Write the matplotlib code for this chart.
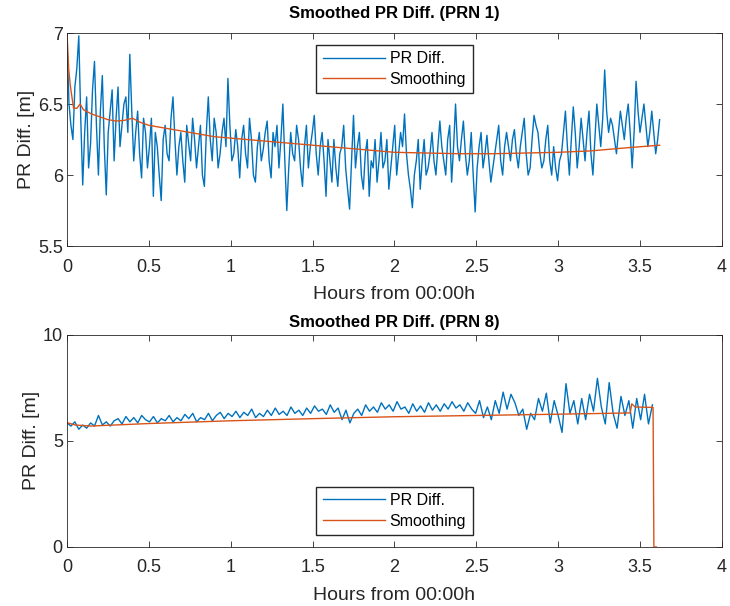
import numpy as np
import matplotlib
matplotlib.use('Agg')
import matplotlib.pyplot as plt
from matplotlib.ticker import MultipleLocator, FormatStrFormatter

plt.rcParams['font.family'] = ['Liberation Sans', 'DejaVu Sans']

# ---- PRN 1 data (hours, metres) ----
prn1_diff = [6.95, 6.50, 6.35, 6.25, 6.62, 6.75, 6.98, 6.40, 5.93, 6.30, 6.55, 6.05, 6.22, 6.60, 6.80, 6.35, 6.00, 6.45, 6.70, 6.20,
             5.86, 6.30, 6.45, 6.60, 6.10, 6.40, 6.62, 6.20, 6.35, 6.50, 6.55, 6.30, 6.85, 6.45, 6.10, 6.30, 6.45, 6.15, 5.98, 6.40,
             6.30, 6.05, 6.20, 6.40, 5.85, 6.30, 6.20, 6.00, 5.82, 6.25, 6.35, 6.15, 6.10, 6.40, 6.55, 6.25, 6.00, 6.20, 6.30, 6.10,
             5.95, 6.35, 6.22, 6.10, 6.40, 6.25, 6.05, 6.20, 6.35, 6.00, 5.92, 6.30, 6.55, 6.25, 6.10, 6.40, 6.30, 6.05, 6.15, 6.30,
             6.40, 6.20, 6.68, 6.35, 6.10, 6.15, 6.32, 6.20, 5.98, 6.25, 6.35, 6.15, 6.05, 6.40, 6.25, 6.00, 5.95, 6.20, 6.30, 6.10,
             6.18, 6.30, 6.38, 6.10, 5.98, 6.30, 6.20, 6.35, 6.05, 6.25, 6.50, 6.10, 5.75, 6.05, 6.30, 6.15, 6.10, 6.35, 6.25, 6.05,
             5.92, 6.20, 6.35, 6.05, 6.20, 6.30, 6.42, 6.15, 6.00, 6.20, 6.30, 6.10, 5.85, 6.25, 6.10, 5.95, 6.25, 6.05, 5.92, 6.15,
             6.20, 6.35, 6.05, 5.90, 5.76, 6.10, 6.42, 6.05, 6.20, 6.30, 6.00, 5.90, 6.15, 6.25, 5.85, 6.10, 6.05, 6.25, 5.95, 6.10,
             6.30, 6.05, 6.10, 6.25, 5.90, 6.05, 6.20, 6.35, 6.00, 6.15, 6.30, 6.20, 6.43, 6.15, 6.00, 5.90, 5.77, 6.00, 6.10, 6.25,
             5.90, 6.10, 6.25, 6.00, 6.05, 6.15, 6.30, 6.10, 6.00, 6.20, 6.38, 6.20, 6.10, 6.00, 6.25, 6.35, 5.95, 6.20, 6.50, 6.20,
             6.10, 6.25, 6.38, 6.15, 6.00, 6.10, 6.30, 6.00, 5.74, 6.05, 6.20, 6.30, 6.05, 6.15, 6.28, 6.10, 5.95, 6.05, 6.15, 6.25,
             6.35, 6.10, 6.00, 6.20, 6.30, 6.20, 6.10, 6.25, 6.32, 6.15, 6.05, 6.20, 6.30, 6.40, 6.15, 6.00, 6.05, 6.25, 6.42, 6.35,
             6.30, 6.15, 6.05, 6.10, 6.25, 6.35, 6.10, 6.00, 6.20, 6.05, 5.96, 6.10, 6.15, 6.30, 6.45, 6.20, 6.00, 6.25, 6.48, 6.30,
             6.05, 6.20, 6.40, 6.25, 6.10, 6.30, 6.45, 6.15, 6.00, 6.25, 6.50, 6.35, 6.20, 6.40, 6.74, 6.45, 6.30, 6.40, 6.35, 6.25,
             6.15, 6.30, 6.45, 6.35, 6.25, 6.40, 6.50, 6.30, 6.05, 6.30, 6.66, 6.45, 6.30, 6.40, 6.50, 6.35, 6.20, 6.30, 6.45, 6.30,
             6.15, 6.25, 6.39]
prn1_t = np.linspace(0, 3.62, len(prn1_diff))

prn1_smooth_t = [0, 0.01, 0.02, 0.04, 0.06, 0.08, 0.10, 0.15, 0.20, 0.25,
                 0.30, 0.35, 0.40, 0.45, 0.50, 0.60, 0.70, 0.80, 0.90, 1.00,
                 1.20, 1.40, 1.60, 1.80, 2.00, 2.20, 2.40, 2.60, 2.80, 3.00,
                 3.20, 3.40, 3.62]
prn1_smooth = [7.00, 6.75, 6.63, 6.47, 6.47, 6.50, 6.46, 6.43, 6.41, 6.39,
               6.38, 6.385, 6.40, 6.37, 6.35, 6.33, 6.31, 6.29, 6.27, 6.26,
               6.24, 6.22, 6.20, 6.18, 6.16, 6.155, 6.15, 6.15, 6.155, 6.16,
               6.17, 6.19, 6.21]

# ---- PRN 8 data ----
prn8_diff = [5.85, 5.70, 5.90, 5.55, 5.75, 5.60, 5.85, 5.70, 6.20, 5.75,
             5.90, 5.70, 5.95, 6.05, 5.80, 6.15, 5.90, 6.10, 5.85, 6.20,
             6.00, 5.90, 6.15, 5.85, 6.05, 5.95, 6.20, 5.90, 6.10, 5.95,
             6.25, 6.05, 6.30, 5.90, 6.10, 6.00, 6.30, 5.95, 6.20, 6.35,
             6.05, 6.30, 6.15, 6.40, 6.10, 6.35, 6.20, 6.50, 6.10, 6.30,
             6.15, 6.45, 6.20, 6.55, 6.25, 6.40, 6.20, 6.60, 6.30, 6.45,
             6.20, 6.55, 6.30, 6.65, 6.40, 6.50, 6.25, 6.70, 6.35, 6.55,
             6.00, 6.45, 5.85, 6.30, 6.50, 6.20, 6.70, 6.40, 6.60, 6.35,
             6.80, 6.50, 6.70, 6.40, 6.85, 6.50, 6.60, 6.30, 6.75, 6.40,
             6.65, 6.35, 6.80, 6.45, 6.70, 6.40, 6.75, 6.50, 6.85, 6.55,
             6.70, 6.40, 6.80, 6.50, 6.30, 6.90, 6.10, 6.60, 6.00, 6.90,
             6.30, 7.30, 6.50, 7.20, 6.80, 6.20, 6.50, 5.55, 6.30, 6.00,
             7.00, 6.40, 7.25, 5.85, 6.90, 6.20, 5.40, 7.70, 6.30, 6.90,
             5.80, 7.00, 6.00, 7.20, 6.40, 7.95, 6.60, 5.80, 7.75, 6.30,
             5.60, 7.10, 6.20, 6.90, 5.60, 7.00, 6.00, 7.20, 5.80, 6.70]
prn8_t = np.linspace(0, 3.576, len(prn8_diff))

prn8_smooth_t = [0, 0.05, 0.15, 0.20, 0.50, 1.00, 1.50, 2.00, 2.50, 3.00,
                 3.44, 3.45, 3.47, 3.58, 3.585, 3.60]
prn8_smooth = [5.86, 5.75, 5.70, 5.72, 5.82, 5.95, 6.05, 6.14, 6.20, 6.26,
               6.32, 6.75, 6.60, 6.58, 0.0, 0.0]

blue = '#0072BD'
orange = '#D95319'
txt = '#262626'

fig = plt.figure(figsize=(7.3, 6.06), dpi=100)
ax1 = fig.add_axes([0.0918, 0.594, 0.897, 0.3515])
ax2 = fig.add_axes([0.0918, 0.0974, 0.897, 0.350])

leg_kw = dict(fontsize=11.5, handlelength=3.9, handletextpad=0.3, labelspacing=0.35,
              fancybox=False, edgecolor=txt, framealpha=1, borderaxespad=0.75)

ax1.plot(prn1_t, prn1_diff, color=blue, lw=1.0, label='PR Diff.')
ax1.plot(prn1_smooth_t, prn1_smooth, color=orange, lw=1.0, label='Smoothing')
ax1.set_xlim(0, 4)
ax1.set_ylim(5.5, 7)
ax1.yaxis.set_major_locator(MultipleLocator(0.5))
ax1.set_title('Smoothed PR Diff. (PRN 1)', fontsize=12, fontweight='bold', pad=11)
ax1.legend(loc='upper center', **leg_kw)

ax2.plot(prn8_t, prn8_diff, color=blue, lw=1.0, label='PR Diff.')
ax2.plot(prn8_smooth_t, prn8_smooth, color=orange, lw=1.0, label='Smoothing')
ax2.set_xlim(0, 4)
ax2.set_ylim(0, 10)
ax2.yaxis.set_major_locator(MultipleLocator(5))
ax2.set_title('Smoothed PR Diff. (PRN 8)', fontsize=12, fontweight='bold', pad=6)
ax2.legend(loc='lower center', **leg_kw)

for ax in (ax1, ax2):
    ax.xaxis.set_major_locator(MultipleLocator(0.5))
    ax.xaxis.set_major_formatter(FormatStrFormatter('%g'))
    ax.yaxis.set_major_formatter(FormatStrFormatter('%g'))
    ax.set_xlabel('Hours from 00:00h', fontsize=14, color=txt, labelpad=7.5)
    ax.set_ylabel('PR Diff. [m]', fontsize=14, color=txt, labelpad=2)
    ax.tick_params(direction='in', top=True, right=True, labelsize=13,
                   colors=txt, length=4, width=0.6)
    ax.tick_params(axis='x', pad=9)
    ax.tick_params(axis='y', pad=3)
    for s in ax.spines.values():
        s.set_color(txt)
        s.set_linewidth(0.6)

fig.savefig('out.png', dpi=100)
